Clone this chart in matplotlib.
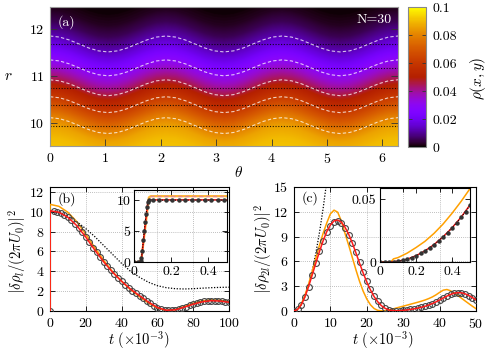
import numpy as np
import matplotlib
matplotlib.use('Agg')
import matplotlib.pyplot as plt

plt.rcParams['mathtext.fontset'] = 'cm'
plt.rcParams['font.family'] = 'serif'
plt.rcParams['font.serif'] = ['cmr10']
plt.rcParams['axes.formatter.use_mathtext'] = True
plt.rcParams['axes.unicode_minus'] = False

# ---------------- data: panel (a) ----------------
r_profile = [9.0, 9.5, 9.75, 10.0, 10.25, 10.5, 10.75, 11.0, 11.25, 11.5, 11.75, 12.0, 12.25, 12.5, 13.0]
rho_profile = [0.094, 0.090, 0.086, 0.078, 0.067, 0.056, 0.046, 0.036, 0.027, 0.018, 0.011, 0.0055, 0.0022, 0.0006, 0.0]
theta_deg = [0, 10, 20, 30, 40, 50, 60, 70, 80, 90, 100, 110, 120, 130, 140, 150, 160, 170, 180,
             190, 200, 210, 220, 230, 240, 250, 260, 270, 280, 290, 300, 310, 320, 330, 340, 350, 360]
shift_pts = [0.17, 0.147, 0.085, 0.0, -0.085, -0.147, -0.17, -0.147, -0.085, 0.0, 0.085, 0.147,
             0.17, 0.147, 0.085, 0.0, -0.085, -0.147, -0.17, -0.147, -0.085, 0.0, 0.085, 0.147,
             0.17, 0.147, 0.085, 0.0, -0.085, -0.147, -0.17, -0.147, -0.085, 0.0, 0.085, 0.147, 0.17]
eq_radii = [9.936, 10.383, 10.745, 11.17, 11.68]
cbar_ticks = [0, 0.02, 0.04, 0.06, 0.08, 0.1]
cbar_labels = ['0', '0.02', '0.04', '0.06', '0.08', '0.1']

# ---------------- data: panel (b) ----------------
tb_line = [0, 0.05, 0.08, 5, 10, 15, 20, 25, 30, 35, 40, 45, 50, 55, 60, 65, 70, 75, 80, 85, 90, 95, 100]
b_red = [0, 0, 10.1, 9.95, 9.45, 8.6, 7.45, 6.15, 4.95, 3.9, 3.0, 2.2, 1.55, 0.9, 0.35, 0.07, 0.12, 0.38, 0.68, 0.92, 1.04, 1.0, 0.88]
b_orange = [0, 0, 10.75, 10.55, 9.95, 9.0, 7.75, 6.4, 5.1, 3.95, 3.0, 2.15, 1.45, 0.8, 0.3, 0.06, 0.15, 0.45, 0.78, 1.02, 1.12, 1.08, 0.95]
tb_dot = [0, 5, 10, 15, 20, 25, 30, 35, 40, 45, 50, 55, 60, 65, 70, 75, 80, 85, 90, 95, 100]
b_dotted = [10.0, 9.9, 9.55, 9.0, 8.3, 7.5, 6.6, 5.7, 4.8, 4.0, 3.4, 2.9, 2.55, 2.35, 2.25, 2.22, 2.25, 2.3, 2.35, 2.38, 2.4]
tb_circ = list(range(0, 101, 2))
b_circ = [0, 10.08, 10.0, 9.88, 9.7, 9.45, 9.15, 8.8, 8.4, 7.95, 7.45, 6.95, 6.4, 5.9, 5.4, 4.95,
          4.5, 4.1, 3.7, 3.35, 3.0, 2.65, 2.35, 2.05, 1.8, 1.55, 1.28, 1.02, 0.78, 0.55, 0.35,
          0.2, 0.1, 0.06, 0.07, 0.12, 0.2, 0.32, 0.44, 0.56, 0.68, 0.78, 0.88, 0.96, 1.01, 1.04,
          1.04, 1.01, 0.97, 0.93, 0.88]
# inset (b)
tbi_red = [0, 0.03, 0.04, 0.075, 0.085, 0.5]
bi_red = [0, 0, 0.5, 9.9, 10.1, 10.1]
tbi_orange = [0, 0.03, 0.04, 0.08, 0.09, 0.5]
bi_orange = [0, 0, 0.5, 10.5, 10.7, 10.7]
tbi_pink = [0.085, 0.5]
bi_pink = [10.7, 10.7]
tbi_dots = [0, 0.02, 0.035, 0.04, 0.045, 0.05, 0.055, 0.06, 0.065, 0.07, 0.075, 0.08, 0.1, 0.135,
            0.17, 0.205, 0.24, 0.275, 0.31, 0.345, 0.38, 0.415, 0.45, 0.485]
bi_dots = [0, 0, 0.1, 0.6, 1.8, 3.5, 5.0, 6.5, 7.8, 9.0, 9.8, 10.05, 10.05, 10.05,
           10.05, 10.05, 10.05, 10.05, 10.05, 10.05, 10.05, 10.05, 10.05, 10.05]

# ---------------- data: panel (c) ----------------
tc = list(range(0, 51))
c_red = [0, 0.2, 0.75, 1.7, 2.95, 4.35, 5.8, 7.2, 8.5, 9.6, 10.4, 10.9, 11.0, 10.75, 10.15, 9.3,
         8.25, 7.05, 5.8, 4.6, 3.5, 2.55, 1.75, 1.12, 0.65, 0.33, 0.13, 0.04, 0.02, 0.04, 0.08,
         0.13, 0.19, 0.26, 0.35, 0.45, 0.57, 0.72, 0.9, 1.1, 1.33, 1.57, 1.8, 2.0, 2.15, 2.22,
         2.2, 2.08, 1.88, 1.63, 1.35]
c_orange = [0, 0.22, 0.85, 1.9, 3.25, 4.8, 6.4, 7.95, 9.4, 10.65, 11.75, 12.2, 11.95, 10.9, 9.4,
            8.0, 6.5, 5.0, 3.6, 2.4, 1.45, 0.75, 0.3, 0.08, 0.02, 0.04, 0.1, 0.22, 0.35, 0.47,
            0.58, 0.7, 0.82, 0.94, 1.06, 1.19, 1.33, 1.5, 1.7, 1.95, 2.25, 2.52, 2.6, 2.45, 2.18,
            1.88, 1.55, 1.22, 0.9, 0.58, 0.28]
c_circ = [0, 0.2, 0.75, 1.7, 2.95, 4.35, 5.8, 7.2, 8.45, 9.5, 10.3, 10.75, 10.85, 10.6, 10.05,
          9.25, 8.25, 7.1, 5.9, 4.7, 3.6, 2.65, 1.85, 1.2, 0.72, 0.38, 0.16, 0.05, 0.02, 0.04,
          0.08, 0.13, 0.19, 0.26, 0.35, 0.45, 0.57, 0.72, 0.9, 1.1, 1.33, 1.57, 1.8, 2.0, 2.15,
          2.2, 2.18, 2.06, 1.87, 1.62, 1.35]
tc_dot = [0, 1, 2, 3, 4, 5, 6, 7, 8, 9]
c_dotted = [0, 0.19, 0.78, 1.75, 3.1, 4.85, 7.0, 9.5, 12.4, 15.7]
# inset (c)
tci_red = [0, 0.05, 0.1, 0.15, 0.2, 0.25, 0.3, 0.35, 0.4, 0.45, 0.5]
ci_red = [0, 0, 0.0006, 0.0022, 0.005, 0.0089, 0.0139, 0.02, 0.0272, 0.0356, 0.0455]
tci_orange = [0, 0.06, 0.075, 0.1, 0.15, 0.2, 0.25, 0.3, 0.35, 0.4, 0.45, 0.5]
ci_orange = [0, 0, 0.0025, 0.0035, 0.007, 0.0115, 0.0165, 0.0228, 0.0302, 0.0388, 0.0482, 0.0585]
tci_dots = [0, 0.025, 0.05, 0.075, 0.1, 0.125, 0.15, 0.175, 0.2, 0.225, 0.25, 0.275, 0.3, 0.325,
            0.35, 0.375, 0.4, 0.425, 0.45, 0.475, 0.5]
ci_dots = [0, 0, 0, 0.0002, 0.0006, 0.0013, 0.0022, 0.0035, 0.005, 0.0068, 0.0089, 0.0112, 0.0139,
           0.0168, 0.02, 0.0235, 0.0272, 0.0312, 0.0355, 0.0402, 0.0452]

RED = '#ff1a1a'
ORANGE = '#ffa000'
FS = 10

W, H = 500, 350
fig = plt.figure(figsize=(W / 100, H / 100), dpi=100)


def add_ax(x0, y0, x1, y1, **kw):
    return fig.add_axes([x0 / W, 1 - y1 / H, (x1 - x0) / W, (y1 - y0) / H], **kw)


def style(ax, pad=4.0, color='k'):
    ax.tick_params(direction='in', top=True, right=True, length=3.5, width=0.6,
                   labelsize=FS, pad=pad, colors='k')
    for s in ax.spines.values():
        s.set_linewidth(0.8)
        s.set_color(color)


# ---------------- panel (a) ----------------
axa = add_ax(50, 7, 398, 146)
theta_pts = np.deg2rad(np.asarray(theta_deg, dtype=float))
shift_arr = np.asarray(shift_pts, dtype=float)
assert theta_pts.size == shift_arr.size
theta_fine = np.linspace(0, 2 * np.pi, 700)
r_fine = np.linspace(9.5, 12.47, 350)
shift_fine = np.interp(theta_fine, theta_pts, shift_arr)
R = r_fine[:, None] - shift_fine[None, :]
field = np.interp(R.ravel(), r_profile, rho_profile).reshape(R.shape)
im = axa.imshow(field, origin='lower', extent=[0, 2 * np.pi, 9.5, 12.47], aspect='auto',
                cmap='gnuplot', vmin=0, vmax=0.1, interpolation='bilinear')
for r0 in eq_radii:
    axa.axhline(r0, color='k', lw=0.8, ls=(0, (1, 1.5)), alpha=0.85)
    axa.plot(theta_pts, r0 + shift_arr, color='white', lw=0.8,
             ls=(0, (3, 2)), alpha=0.75)
axa.set_xlim(0, 2 * np.pi)
axa.set_ylim(9.5, 12.47)
axa.set_xticks(range(7))
axa.set_yticks([10, 11, 12])
style(axa, color='#999999')
axa.tick_params(top=False, length=5, colors='#333333', labelcolor='k')
axa.text(0.023, 0.89, '(a)', transform=axa.transAxes, color='white', fontsize=FS,
         ha='left', va='center')
axa.text(0.983, 0.905, 'N=30', transform=axa.transAxes, color='white', fontsize=FS,
         ha='right', va='center')
fig.text(238 / W, 1 - 173 / H, r'$\theta$', fontsize=FS + 1, ha='center', va='center')
fig.text(8 / W, 1 - 76 / H, r'$r$', fontsize=FS + 1, ha='center', va='center')

axcb = add_ax(408, 7, 426, 147)
cb = fig.colorbar(im, cax=axcb)
cb.set_ticks(cbar_ticks)
cb.set_ticklabels(cbar_labels)
cb.outline.set_edgecolor('#888888')
cb.outline.set_linewidth(0.8)
axcb.tick_params(direction='in', left=True, right=True, length=3, width=0.6,
                 colors='#333333', labelcolor='k', labelsize=FS, pad=5)
fig.text(478 / W, 1 - 78 / H, r'$\rho(x,y)$', fontsize=FS + 1, rotation=90,
         ha='center', va='center')

# ---------------- panel (b) ----------------
axb = add_ax(50, 187, 229, 311)
axb.grid(True, color='#aaaaaa', ls=(0, (1, 1.5)), lw=0.6)
axb.plot(tb_dot, b_dotted, color='k', lw=0.9, ls=(0, (1, 1.3)), zorder=3)
axb.plot(tb_line, b_orange, color=ORANGE, lw=1.1, zorder=3)
axb.plot(tb_circ, b_circ, ls='none', marker='o', ms=4.2, mfc='none', mec='#444444',
         mew=0.8, zorder=4)
axb.plot(tb_line, b_red, color=RED, lw=1.1, zorder=5)
axb.set_xlim(0, 100)
axb.set_ylim(0, 12.5)
axb.set_xticks([0, 20, 40, 60, 80, 100])
axb.set_yticks([0, 2, 4, 6, 8, 10, 12])
style(axb)
axb.text(0.04, 0.9, '(b)', transform=axb.transAxes, fontsize=FS, ha='left', va='center')
fig.text(17 / W, 1 - 252 / H, r'$\left|\delta\rho_l/(2\pi U_0)\right|^2$', fontsize=FS + 0.5,
         rotation=90, ha='center', va='center')
fig.text(139 / W, 1 - 340 / H, r'$t\ (\times 10^{-3})$', fontsize=FS + 0.5,
         ha='center', va='center')

axbi = add_ax(134, 190, 227, 262, facecolor='none')
axbi.plot(tbi_orange, bi_orange, color=ORANGE, lw=1.6, alpha=0.8)
axbi.plot(tbi_pink, bi_pink, color='#e58a8a', lw=1.0, ls=(0, (3, 2)))
axbi.plot(tbi_red, bi_red, color=RED, lw=1.1)
axbi.plot(tbi_dots, bi_dots, color='k', lw=0.8, ls=(0, (1, 1.3)), marker='o', ms=2.2,
          mfc='#333333', mec='#333333')
axbi.set_xlim(0, 0.5)
axbi.set_ylim(0, 11.7)
axbi.set_xticks([0, 0.2, 0.4])
axbi.set_xticklabels(['0', '0.2', '0.4'])
axbi.set_yticks([0, 5, 10])
axbi.set_yticklabels(['0', '5', '10'])
style(axbi, pad=2.5)

# ---------------- panel (c) ----------------
axc = add_ax(294, 187, 476, 311)
axc.grid(True, color='#aaaaaa', ls=(0, (1, 1.5)), lw=0.6)
axc.plot(tc_dot, c_dotted, color='k', lw=0.9, ls=(0, (1, 1.3)), zorder=3)
axc.plot(tc, c_orange, color=ORANGE, lw=1.1, zorder=3)
axc.plot(tc, c_circ, ls='none', marker='o', ms=4.2, mfc='none', mec='#444444',
         mew=0.8, zorder=4)
axc.plot(tc, c_red, color=RED, lw=1.1, zorder=5)
axc.set_xlim(0, 50)
axc.set_ylim(0, 15)
axc.set_xticks([0, 10, 20, 30, 40, 50])
axc.set_yticks([0, 3, 6, 9, 12, 15])
style(axc)
axc.text(0.044, 0.91, '(c)', transform=axc.transAxes, fontsize=FS, ha='left', va='center')
fig.text(263 / W, 1 - 249 / H, r'$\left|\delta\rho_{2l}/(2\pi U_0)\right|^2$',
         fontsize=FS + 0.5, rotation=90, ha='center', va='center')
fig.text(383 / W, 1 - 340 / H, r'$t\ (\times 10^{-3})$', fontsize=FS + 0.5,
         ha='center', va='center')

axci = add_ax(380, 188, 470, 262, facecolor='none')
axci.plot(tci_orange, ci_orange, color=ORANGE, lw=1.1)
axci.plot(tci_red, ci_red, color=RED, lw=1.1)
axci.plot(tci_dots, ci_dots, color='k', lw=0.8, ls=(0, (1, 1.3)), marker='o', ms=2.2,
          mfc='#333333', mec='#333333')
axci.set_xlim(0, 0.5)
axci.set_ylim(0, 0.059)
axci.set_xticks([0, 0.2, 0.4])
axci.set_xticklabels(['0', '0.2', '0.4'])
axci.set_yticks([0, 0.05])
axci.set_yticklabels(['0', '0.05'])
style(axci, pad=2.5)

fig.savefig('out.png', dpi=100)
